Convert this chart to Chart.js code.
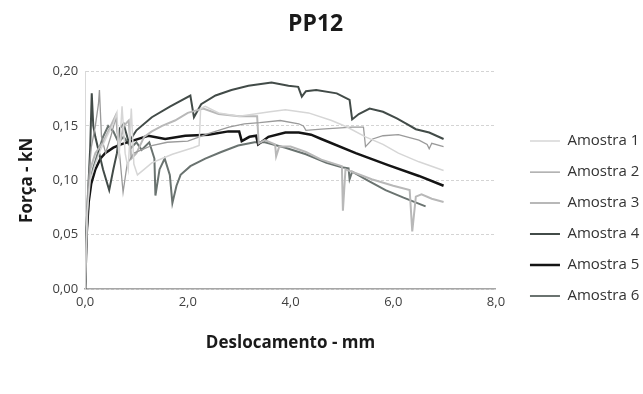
<!DOCTYPE html>
<html>
<head>
<meta charset="utf-8">
<script src="https://cdn.jsdelivr.net/npm/chart.js@4/dist/chart.umd.min.js"></script>
<style>
  html, body { margin: 0; padding: 0; background: #fff; }
  #wrap { width: 643px; height: 394px; }
</style>
</head>
<body>
<div id="wrap"><canvas id="chart" width="643" height="394"></canvas></div>
<script>
const seriesNames = ["Amostra 1", "Amostra 2", "Amostra 3", "Amostra 4", "Amostra 5", "Amostra 6"];

const xTicks = [0, 2, 4, 6, 8];
const xTickLabels = ["0,0", "2,0", "4,0", "6,0", "8,0"];
const yTicks = [0, 0.05, 0.10, 0.15, 0.20];
const yTickLabels = ["0,00", "0,05", "0,10", "0,15", "0,20"];

// deslocamento (mm) / força (kN)
const xA1 = [0, 0.04, 0.1, 0.2, 0.3, 0.42, 0.55, 0.62, 0.66, 0.72, 0.78, 0.84, 0.9, 0.95, 1.02, 1.15, 1.3, 1.5, 1.7, 1.9, 2.1, 2.22, 2.25, 2.34, 2.6, 3.0, 3.3, 3.6, 3.9, 4.35, 4.8, 5.1, 5.46, 5.8, 6.1, 6.5, 6.98];
const yA1 = [0, 0.07, 0.1, 0.115, 0.128, 0.14, 0.152, 0.162, 0.12, 0.168, 0.125, 0.11, 0.166, 0.115, 0.105, 0.11, 0.116, 0.12, 0.124, 0.127, 0.13, 0.132, 0.166, 0.168, 0.162, 0.159, 0.161, 0.163, 0.165, 0.162, 0.155, 0.149, 0.140, 0.133, 0.125, 0.117, 0.109];

const xA2 = [0, 0.05, 0.12, 0.2, 0.26, 0.28, 0.32, 0.4, 0.5, 0.6, 0.68, 0.74, 0.82, 0.95, 1.1, 1.3, 1.6, 2.0, 2.4, 2.8, 3.1, 3.4, 3.8, 4.16, 4.25, 4.3, 4.6, 4.9, 5.2, 5.42, 5.46, 5.6, 5.8, 6.1, 6.5, 6.66, 6.7, 6.75, 6.98];
const yA2 = [0, 0.09, 0.13, 0.15, 0.17, 0.183, 0.14, 0.125, 0.14, 0.158, 0.12, 0.089, 0.115, 0.125, 0.128, 0.132, 0.135, 0.136, 0.143, 0.149, 0.152, 0.153, 0.155, 0.152, 0.150, 0.146, 0.147, 0.148, 0.149, 0.149, 0.131, 0.138, 0.141, 0.142, 0.137, 0.133, 0.129, 0.134, 0.131];

const xA3 = [0, 0.05, 0.1, 0.2, 0.35, 0.5, 0.6, 0.66, 0.75, 0.85, 0.9, 1.0, 1.15, 1.3, 1.5, 1.75, 2.0, 2.3, 2.6, 3.0, 3.35, 3.38, 3.5, 3.7, 3.72, 3.78, 4.0, 4.3, 4.6, 5.0, 5.02, 5.07, 5.3, 5.58, 6.0, 6.32, 6.37, 6.44, 6.55, 6.75, 6.98];
const yA3 = [0, 0.08, 0.11, 0.125, 0.135, 0.15, 0.16, 0.13, 0.15, 0.155, 0.12, 0.125, 0.14, 0.145, 0.15, 0.155, 0.162, 0.166, 0.161, 0.159, 0.159, 0.134, 0.137, 0.133, 0.122, 0.131, 0.131, 0.126, 0.119, 0.113, 0.072, 0.11, 0.106, 0.101, 0.095, 0.091, 0.053, 0.085, 0.087, 0.083, 0.080];

const xA4 = [0, 0.03, 0.07, 0.1, 0.13, 0.16, 0.2, 0.25, 0.35, 0.47, 0.55, 0.62, 0.68, 0.75, 0.85, 1.0, 1.3, 1.66, 2.05, 2.12, 2.26, 2.54, 2.85, 3.18, 3.63, 3.96, 4.15, 4.22, 4.3, 4.5, 4.9, 5.15, 5.2, 5.33, 5.54, 5.8, 6.07, 6.26, 6.44, 6.7, 6.98];
const yA4 = [0, 0.06, 0.1, 0.13, 0.18, 0.15, 0.14, 0.13, 0.11, 0.091, 0.11, 0.125, 0.148, 0.152, 0.135, 0.146, 0.158, 0.168, 0.178, 0.158, 0.170, 0.178, 0.183, 0.187, 0.190, 0.187, 0.186, 0.177, 0.182, 0.183, 0.180, 0.174, 0.156, 0.161, 0.166, 0.163, 0.157, 0.152, 0.147, 0.144, 0.138];

const xA5 = [0, 0.03, 0.07, 0.12, 0.2, 0.3, 0.39, 0.55, 0.7, 0.9, 1.23, 1.56, 1.95, 2.4, 2.79, 3.0, 3.05, 3.2, 3.33, 3.37, 3.57, 3.9, 4.16, 4.4, 4.6, 5.27, 5.9, 6.5, 6.98];
const yA5 = [0, 0.05, 0.08, 0.097, 0.11, 0.12, 0.125, 0.13, 0.133, 0.136, 0.141, 0.138, 0.141, 0.142, 0.145, 0.145, 0.136, 0.140, 0.141, 0.133, 0.140, 0.144, 0.144, 0.142, 0.138, 0.125, 0.114, 0.104, 0.095];

const xA6 = [0, 0.03, 0.08, 0.15, 0.25, 0.35, 0.45, 0.55, 0.65, 0.75, 0.9, 1.0, 1.1, 1.25, 1.35, 1.37, 1.45, 1.55, 1.65, 1.7, 1.78, 1.86, 2.05, 2.34, 2.65, 2.98, 3.3, 3.5, 3.9, 4.3, 4.7, 5.0, 5.13, 5.15, 5.2, 5.5, 5.85, 6.2, 6.63];
const yA6 = [0, 0.05, 0.09, 0.11, 0.125, 0.14, 0.15, 0.145, 0.135, 0.14, 0.13, 0.135, 0.128, 0.135, 0.12, 0.086, 0.11, 0.12, 0.105, 0.079, 0.095, 0.105, 0.113, 0.12, 0.126, 0.132, 0.135, 0.135, 0.130, 0.124, 0.116, 0.112, 0.111, 0.101, 0.108, 0.100, 0.091, 0.084, 0.076];

const seriesX = [xA1, xA2, xA3, xA4, xA5, xA6];
const seriesY = [yA1, yA2, yA3, yA4, yA5, yA6];
const lineColors = ["#d6d6d6", "#9a9a9a", "#b8b8b8", "#424b48", "#141414", "#6a7370"];
const lineWidths = [1.5, 1.3, 2, 2, 2.5, 2];

const FONT = "'Open Sans', 'DejaVu Sans', sans-serif";

// legend sits a bit further from the plot and lower than Chart.js puts it
const LEGEND_DX = 18;
const LEGEND_DY = 46;

const legendNudge = {
    id: "legendNudge",
    afterLayout(chart) {
        const l = chart.legend;
        l.left += LEGEND_DX; l.right += LEGEND_DX;
        l.top += LEGEND_DY; l.bottom += LEGEND_DY;
    }
};

const datasets = seriesNames.map((name, i) => ({
    label: name,
    data: seriesX[i].map((x, j) => ({ x, y: seriesY[i][j] })),
    showLine: true,
    borderColor: lineColors[i],
    backgroundColor: lineColors[i],
    borderWidth: lineWidths[i],
    pointRadius: 0,
    tension: 0
}));

new Chart(document.getElementById("chart"), {
    type: "scatter",
    data: { datasets },
    plugins: [legendNudge],
    options: {
        responsive: false,
        animation: false,
        layout: { padding: { left: 0, right: 11.7, top: 0, bottom: 37 } },
        plugins: {
            title: {
                display: true,
                text: "PP12",
                color: "#1a1a1a",
                font: { family: FONT, size: 23, weight: "bold" },
                padding: { top: 11, bottom: 33 }
            },
            legend: {
                position: "right",
                align: "start",
                fullSize: false,
                labels: {
                    usePointStyle: true,
                    pointStyle: "line",
                    pointStyleWidth: 30,
                    color: "#333333",
                    font: { family: FONT, size: 15 },
                    padding: 16
                }
            },
            tooltip: { enabled: false }
        },
        scales: {
            x: {
                type: "linear",
                min: 0,
                max: 8,
                afterBuildTicks: s => { s.ticks = xTicks.map(v => ({ value: v })); },
                ticks: {
                    callback: (v, i) => xTickLabels[i],
                    color: "#404040",
                    font: { family: FONT, size: 13 },
                    padding: 5,
                    maxRotation: 0
                },
                grid: { display: false, drawTicks: false },
                border: { display: true, color: "#a6a6a6", width: 1.5 },
                title: {
                    display: true,
                    text: "Deslocamento - mm",
                    color: "#1a1a1a",
                    font: { family: FONT, size: 17, weight: "bold" },
                    padding: { top: 18, bottom: 4 }
                }
            },
            y: {
                type: "linear",
                min: 0,
                max: 0.2,
                afterBuildTicks: s => { s.ticks = yTicks.map(v => ({ value: v })); },
                ticks: {
                    callback: (v, i) => yTickLabels[i],
                    color: "#404040",
                    font: { family: FONT, size: 13 },
                    padding: 7
                },
                grid: { color: "#d4d4d4", lineWidth: 1, drawTicks: false },
                border: { display: true, color: "#d9d9d9", width: 1, dash: [3, 2] },
                title: {
                    display: true,
                    text: "Força - kN",
                    color: "#1a1a1a",
                    font: { family: FONT, size: 17, weight: "bold" },
                    padding: { top: 17, bottom: 8 }
                }
            }
        }
    }
});
</script>
</body>
</html>
